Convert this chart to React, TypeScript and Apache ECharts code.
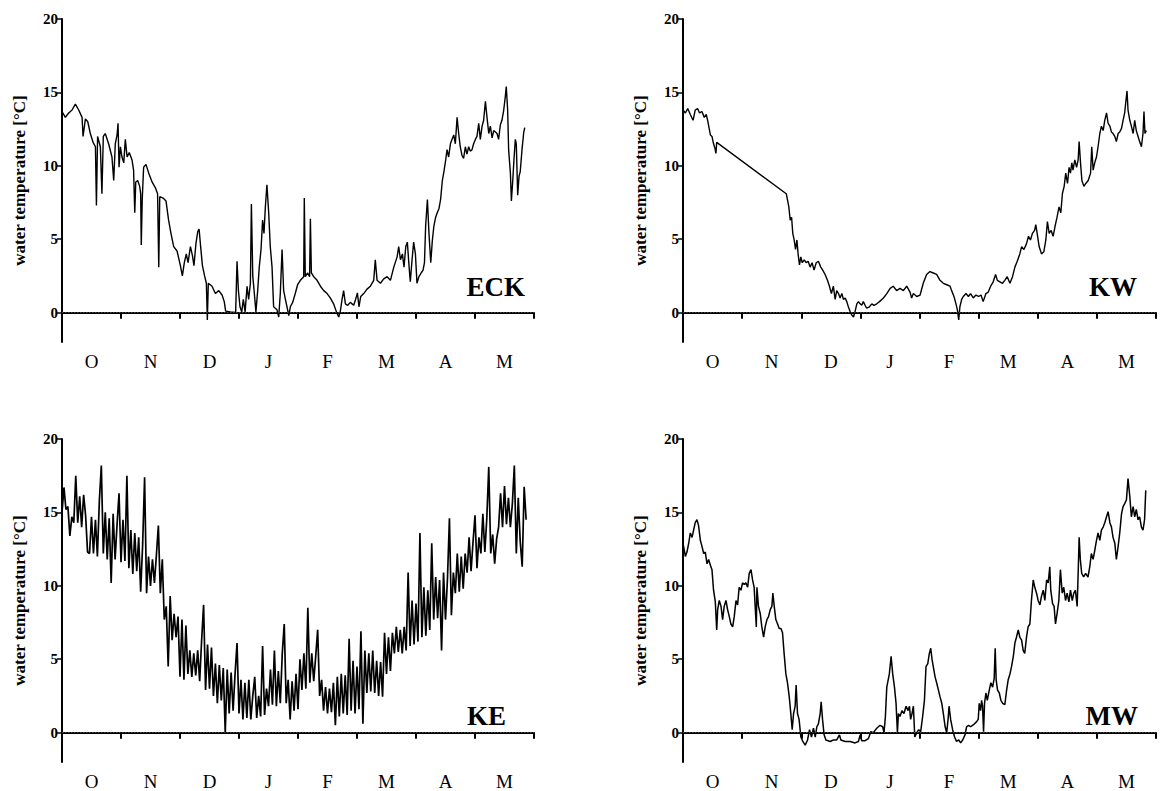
import React, { useEffect, useRef } from "react";
import * as echarts from "echarts";

const months = ["O", "N", "D", "J", "F", "M", "A", "M"];
const yTicks = [0, 5, 10, 15, 20];
const panelNames = ["ECK", "KW", "KE", "MW"];

// [day since 1 Oct (30-day months), water temperature °C]
const eck: [number, number][] = [
  [0, 13.7], [1.7, 13.3], [3.4, 13.6], [5.1, 13.8], [6.8, 14.2], [8.5, 13.8], [10.2, 13.3], [10.7, 12.0],
  [11.9, 13.2], [13.1, 13.0], [14.4, 12.2], [15.8, 11.6], [17.0, 11.3], [17.5, 7.3], [18.1, 12.0], [19.5, 11.3],
  [20.3, 8.1], [21.0, 12.0], [22.0, 12.2], [23.7, 11.5], [25.4, 10.6], [26.3, 9.0], [27.1, 11.5], [28.0, 12.1],
  [28.5, 12.9], [29.0, 9.9], [29.7, 11.3], [30.5, 10.6], [31.4, 10.2], [32.2, 11.8], [33.1, 10.6], [34.2, 10.9],
  [35.6, 10.4], [36.4, 9.7], [37.0, 6.8], [37.5, 8.9], [38.5, 9.0], [39.5, 8.6], [40.0, 8.1], [40.3, 4.6],
  [40.8, 7.7], [41.5, 9.9], [42.7, 10.1], [44.1, 9.5], [45.8, 8.9], [47.5, 8.5], [48.6, 8.1], [49.2, 3.1],
  [49.7, 7.9], [51.4, 7.8], [52.9, 7.6], [54.2, 6.3], [55.4, 5.4], [56.8, 4.5], [58.5, 4.2], [60.2, 3.2],
  [61.2, 2.5], [62.2, 3.4], [63.2, 4.0], [64.1, 3.4], [65.3, 4.5], [66.3, 3.9], [67.1, 3.2], [68.1, 4.7],
  [69.0, 5.5], [69.7, 5.7], [70.5, 4.5], [71.4, 3.2], [72.5, 2.5], [73.4, 2.0], [73.9, -0.5], [74.4, 2.0],
  [76.3, 1.8], [78.0, 1.3], [79.7, 1.5], [81.4, 1.2], [82.5, 0.75], [83.2, 0.1], [85.6, 0.05], [88.3, 0.02],
  [89.0, 3.5], [89.7, 1.5], [90.5, 0.4], [91.4, 0.05], [92.2, 0.9], [93.1, 0.05], [94.1, 1.8], [94.9, 0.9],
  [95.8, 2.0], [96.3, 7.4], [97.0, 2.5], [97.8, 1.3], [98.6, 0.05], [99.5, 1.5], [100.3, 3.1], [101.2, 4.3],
  [102.0, 6.3], [102.7, 5.4], [103.4, 7.2], [104.2, 8.7], [105.1, 6.8], [105.9, 4.5], [106.8, 3.1], [107.6, 0.4],
  [109.3, 0.2], [110.2, -0.3], [111.0, 1.3], [111.9, 4.3], [112.7, 1.5], [113.6, 0.9], [114.4, 0.4], [115.3, -0.2],
  [116.1, 0.4], [117.3, 0.7], [118.6, 1.3], [119.8, 1.9], [121.2, 2.2], [122.9, 2.45], [123.2, 7.8], [123.7, 2.45],
  [124.9, 2.7], [125.9, 2.45], [126.3, 6.4], [126.8, 2.7], [128.0, 2.45], [129.7, 2.2], [131.4, 1.8], [133.1, 1.5],
  [134.8, 1.3], [136.4, 1.0], [138.1, 0.6], [139.5, 0.07], [140.7, -0.3], [141.5, 0.07], [142.4, 0.9], [143.2, 1.5],
  [144.1, 0.6], [145.3, 0.5], [146.6, 0.7], [148.3, 0.5], [149.3, 0.9], [150.2, 1.35], [151.0, 0.4], [151.9, 1.1],
  [153.4, 1.3], [155.1, 1.6], [156.8, 1.8], [158.5, 2.2], [159.3, 3.6], [160.2, 2.2], [161.9, 2.0], [163.6, 2.3],
  [165.3, 2.45], [167.0, 2.2], [168.7, 3.1], [170.4, 3.8], [171.2, 4.5], [172.1, 3.6], [173.1, 4.0], [173.9, 3.1],
  [174.8, 4.5], [175.6, 4.8], [176.5, 3.1], [177.1, 2.1], [178.0, 3.6], [178.8, 4.8], [179.7, 4.0], [180.5, 2.0],
  [181.5, 2.45], [182.6, 2.7], [183.6, 2.9], [184.3, 3.4], [184.9, 5.9], [185.8, 7.7], [186.6, 5.4], [187.5, 3.4],
  [188.3, 4.9], [189.1, 5.9], [190.0, 6.5], [190.8, 6.8], [191.7, 7.1], [192.5, 7.7], [193.4, 9.0], [194.2, 9.6],
  [195.1, 10.4], [195.8, 11.1], [196.6, 10.6], [197.5, 11.5], [198.3, 11.8], [199.2, 12.1], [200.0, 11.5], [200.9, 13.3],
  [201.7, 12.2], [202.5, 11.3], [203.4, 10.7], [204.2, 10.5], [205.1, 11.3], [205.9, 10.8], [206.8, 11.3], [207.6, 11.0],
  [208.5, 11.1], [209.3, 11.5], [210.2, 11.8], [211.0, 12.0], [211.9, 12.9], [212.7, 11.8], [213.6, 12.7], [214.4, 13.1],
  [215.3, 14.4], [216.1, 13.3], [217.0, 12.2], [217.8, 12.7], [218.7, 11.9], [219.5, 12.4], [220.4, 12.3], [221.2, 12.2],
  [222.0, 11.8], [222.9, 12.8], [223.7, 13.1], [224.6, 13.8], [225.4, 14.7], [225.9, 15.4], [226.6, 13.8], [227.1, 11.1],
  [228.0, 9.5], [228.5, 7.6], [229.2, 9.0], [229.8, 10.4], [230.5, 11.8], [231.0, 11.5], [231.7, 8.0], [232.4, 9.3],
  [233.0, 9.6], [233.9, 11.1], [234.8, 12.3], [235.3, 12.6],
];

const kw: [number, number][] = [
  [0, 13.8], [1.2, 13.6], [2.4, 13.9], [3.7, 13.5], [5.1, 13.1], [6.2, 13.8], [7.4, 13.9], [8.4, 13.6],
  [9.6, 13.7], [10.8, 13.3], [11.8, 13.5], [12.5, 13.1], [13.2, 12.6], [13.9, 12.1], [14.7, 12.0], [15.5, 11.5],
  [16.2, 11.2], [16.7, 10.85], [17.1, 11.6],
  [52.4, 8.1], [53.0, 7.7], [53.7, 7.2], [54.4, 6.3], [55.1, 6.5], [55.7, 5.4], [56.4, 4.95], [57.1, 4.3],
  [57.8, 4.95], [58.4, 4.0], [59.1, 3.25], [59.8, 3.8], [60.5, 3.4], [61.5, 3.6], [62.5, 3.4], [63.5, 3.5],
  [64.5, 3.1], [65.5, 3.4], [66.5, 2.9], [67.6, 3.4], [68.7, 3.5], [69.9, 3.1], [70.9, 2.9], [72.1, 2.6],
  [73.3, 2.2], [74.3, 1.8], [75.3, 1.3], [76.3, 1.8], [77.2, 0.9], [78.0, 1.5], [78.9, 1.3], [79.7, 1.0],
  [80.6, 1.3], [81.4, 0.9], [82.3, 1.0], [83.1, 0.75], [83.9, 0.4], [84.8, 0.07], [85.6, -0.15], [86.5, -0.3],
  [87.3, 0.07], [88.2, 0.6], [89.0, 0.75], [89.9, 0.6], [90.7, 0.5], [91.5, 0.75], [92.4, 0.5], [93.2, 0.3],
  [94.6, 0.4], [95.8, 0.6], [96.9, 0.5], [98.3, 0.6], [99.7, 0.75], [101.7, 1.0], [103.4, 1.3], [105.1, 1.65],
  [106.7, 1.8], [108.4, 1.5], [110.1, 1.65], [111.8, 1.5], [113.5, 1.8], [115.2, 1.4], [116.0, 1.0], [116.9, 1.3],
  [118.6, 1.1], [120.3, 1.2], [121.9, 2.0], [123.6, 2.6], [125.3, 2.8], [127.0, 2.7], [128.7, 2.6], [130.4, 2.2],
  [132.1, 2.0], [133.8, 1.9], [135.5, 1.8], [136.3, 1.5], [137.5, 1.1], [138.5, 0.6], [139.2, 0.2], [139.9, -0.5],
  [140.5, 0.4], [141.4, 0.9], [142.2, 1.1], [143.6, 1.3], [144.8, 1.1], [145.9, 1.3], [147.3, 1.0], [148.6, 1.2],
  [150.0, 1.1], [151.2, 1.2], [152.3, 0.75], [153.7, 1.3], [154.9, 1.4], [156.1, 1.8], [157.4, 2.1], [158.6, 2.6],
  [159.5, 2.2], [160.8, 2.1], [162.1, 2.0], [163.3, 2.2], [164.5, 2.45], [165.9, 2.0], [167.2, 2.45], [168.4, 3.1],
  [169.6, 3.5], [170.9, 4.0], [171.8, 4.5], [173.0, 4.3], [174.3, 4.7], [175.3, 5.2], [176.3, 4.95], [177.3, 5.4],
  [178.4, 5.6], [179.0, 6.0], [179.7, 5.4], [180.7, 4.5], [181.9, 4.0], [183.1, 4.15], [184.1, 4.95], [184.9, 6.2],
  [185.8, 5.4], [186.8, 5.6], [187.8, 5.2], [188.8, 5.9], [189.8, 6.5], [190.8, 7.2], [191.7, 6.8], [192.5, 8.1],
  [193.4, 8.6], [194.2, 9.5], [195.1, 8.8], [195.9, 9.9], [196.6, 9.5], [197.3, 10.2], [197.9, 9.7], [198.8, 10.4],
  [199.7, 9.9], [200.5, 10.4], [201.0, 11.65], [201.7, 10.2], [202.4, 9.0], [203.4, 8.6], [204.4, 8.8], [205.6, 9.0],
  [206.8, 9.5], [207.4, 11.3], [208.1, 9.7], [208.9, 10.2], [209.8, 10.6], [210.6, 11.3], [211.5, 12.2], [212.3, 12.7],
  [213.2, 12.4], [214.0, 13.1], [214.9, 13.6], [215.7, 12.9], [216.6, 12.7], [217.4, 12.3], [218.2, 12.2], [219.1, 12.0],
  [219.9, 11.65], [220.8, 12.2], [221.6, 12.3], [222.5, 12.55], [223.3, 13.1], [224.1, 13.6], [224.8, 14.5], [225.3, 15.1],
  [225.8, 13.8], [226.7, 13.1], [227.5, 12.7], [228.4, 12.2], [229.2, 13.1], [230.0, 12.4], [230.9, 12.0], [231.7, 11.65],
  [232.6, 11.3], [233.4, 12.2], [233.9, 13.7], [234.4, 12.2], [235.1, 12.4],
];

// one value per day from 1 Oct
const ke: number[] = [
  15.0, 16.7, 15.2, 15.4, 13.4, 14.7, 14.3, 17.5, 14.3, 16.1, 14.0, 16.2, 14.8, 12.3, 12.2, 14.7,
  12.2, 14.5, 12.0, 15.8, 18.2, 12.2, 15.0, 11.8, 14.6, 10.2, 14.9, 11.8, 14.2, 16.3, 11.6, 14.5,
  11.7, 17.5, 11.2, 13.8, 10.8, 13.6, 11.0, 13.3, 9.6, 12.8, 17.4, 9.5, 12.0, 10.0, 11.8, 10.2,
  12.1, 14.1, 9.5, 11.8, 7.7, 8.6, 4.5, 9.3, 6.3, 8.1, 6.5, 7.9, 3.8, 7.7, 3.6, 7.3,
  4.0, 5.6, 3.8, 5.4, 3.9, 5.6, 3.5, 6.3, 8.7, 2.9, 6.0, 3.0, 5.8, 2.5, 4.7, 2.0,
  4.6, 2.2, 4.4, 0.0, 4.3, 1.3, 4.1, 1.5, 4.0, 6.1, 1.3, 3.6, 0.9, 3.4, 1.0, 3.6,
  0.9, 2.5, 3.8, 1.0, 2.5, 1.1, 5.9, 1.2, 3.0, 1.8, 4.3, 1.9, 5.6, 1.8, 4.2, 2.0,
  5.4, 7.4, 2.0, 3.6, 0.9, 3.5, 1.5, 4.0, 1.6, 5.0, 2.9, 5.4, 3.0, 8.5, 3.4, 5.4,
  3.5, 5.2, 7.0, 2.5, 3.6, 1.5, 3.1, 1.3, 3.0, 1.4, 3.4, 0.5, 3.8, 1.1, 4.0, 1.3,
  3.9, 1.2, 6.4, 1.5, 4.9, 1.3, 4.5, 1.6, 6.9, 0.6, 5.6, 2.7, 5.4, 2.8, 5.6, 2.7,
  4.9, 2.5, 4.8, 2.45, 6.8, 4.0, 6.5, 4.2, 6.8, 5.4, 7.2, 5.5, 7.0, 5.4, 7.2, 5.6,
  10.9, 5.9, 9.0, 6.0, 8.8, 6.2, 13.6, 6.5, 9.9, 6.6, 9.7, 7.0, 12.9, 7.7, 10.6, 7.8,
  10.4, 5.6, 10.9, 7.7, 10.5, 14.6, 8.0, 10.9, 9.5, 12.2, 9.6, 12.0, 9.8, 12.2, 10.9, 13.3,
  11.0, 13.0, 14.8, 11.2, 13.3, 12.2, 14.9, 12.3, 14.6, 18.1, 12.2, 13.5, 11.5, 13.2, 14.0, 16.3,
  14.0, 16.8, 14.2, 16.0, 14.0, 15.6, 18.2, 12.2, 16.0, 13.0, 11.3, 16.75, 14.5,
];

const mw: [number, number][] = [
  [0, 12.9], [1.2, 12.0], [2.0, 12.3], [2.9, 12.9], [3.7, 13.6], [4.6, 13.3], [5.4, 13.8], [6.2, 14.3],
  [7.1, 14.5], [7.9, 14.1], [8.8, 13.1], [9.6, 12.7], [10.5, 12.2], [11.3, 12.3], [12.2, 11.5], [13.0, 11.8],
  [13.9, 11.4], [14.7, 11.1], [15.5, 9.7], [16.4, 8.9], [17.1, 7.0], [17.6, 8.4], [18.4, 9.0], [19.3, 8.6],
  [20.1, 7.7], [20.9, 8.6], [21.8, 9.0], [22.6, 8.4], [23.5, 7.9], [24.3, 7.4], [25.2, 7.2], [26.0, 7.9],
  [26.9, 9.0], [27.7, 8.7], [28.5, 9.9], [29.4, 9.7], [30.2, 10.2], [31.1, 10.1], [31.9, 10.2], [32.8, 9.9],
  [33.6, 10.85], [34.5, 11.1], [35.3, 10.4], [36.1, 9.9], [36.7, 8.4], [37.2, 7.2], [37.5, 9.9], [38.3, 8.6],
  [39.2, 8.1], [40.0, 7.2], [40.9, 6.5], [41.7, 7.2], [42.6, 7.7], [43.4, 7.9], [44.3, 8.4], [45.1, 8.6],
  [45.6, 9.5], [46.3, 8.6], [47.1, 7.7], [48.0, 7.4], [48.8, 7.1], [49.7, 7.1], [50.5, 6.8], [51.3, 5.4],
  [52.2, 4.0], [53.0, 3.4], [53.9, 2.45], [54.7, 1.3], [55.4, 0.2], [56.1, 1.3], [56.9, 1.8], [57.4, 3.25],
  [58.1, 1.3], [58.9, 0.9], [59.8, -0.3], [60.8, -0.6], [62.0, -0.85], [63.2, -0.5], [64.2, 0.2], [65.2, -0.3],
  [66.2, 0.3], [67.1, -0.3], [67.9, 0.4], [68.7, 0.6], [69.6, 1.3], [70.1, 2.1], [70.8, 0.9], [71.6, -0.15],
  [72.5, -0.5], [74.7, -0.6], [76.3, -0.5], [78.0, -0.5], [79.4, -0.15], [80.1, -0.5], [82.3, -0.6], [84.8, -0.6],
  [87.3, -0.7], [89.0, -0.6], [89.9, -0.15], [90.7, -0.55], [92.4, -0.55], [94.1, -0.4], [95.3, 0.07], [96.6, 0.0],
  [98.3, 0.3], [100.0, 0.5], [101.3, 0.4], [102.0, 0.0], [102.7, 1.1], [103.4, 3.1], [104.7, 4.0], [105.6, 5.2],
  [106.4, 4.0], [107.3, 3.1], [108.1, 2.0], [108.8, 0.0], [109.3, 1.3], [110.1, 1.1], [111.1, 1.5], [112.1, 1.3],
  [113.2, 1.8], [114.2, 1.5], [114.9, 1.8], [115.5, 0.9], [116.2, 1.3], [116.9, 1.8], [117.6, -0.3], [118.6, 0.0],
  [119.6, 0.2], [120.6, 0.07], [121.6, 1.1], [122.5, 2.2], [123.3, 4.5], [124.2, 4.7], [125.0, 5.4], [125.7, 5.75],
  [126.4, 4.95], [127.0, 4.5], [127.9, 3.8], [128.7, 3.4], [129.6, 2.9], [130.4, 2.45], [131.3, 2.0], [132.1, 1.3],
  [133.0, 0.4], [133.8, 0.0], [134.5, 0.9], [135.0, 1.8], [135.8, 0.9], [136.8, 0.2], [137.8, -0.3], [138.8, -0.6],
  [139.9, -0.5], [140.9, -0.7], [141.9, -0.5], [143.1, -0.15], [143.9, 0.4], [144.9, 0.5], [145.9, 0.4], [146.9, 0.5],
  [147.9, 0.6], [149.0, 0.75], [149.8, 0.9], [150.3, 2.0], [151.0, 1.5], [151.5, 2.2], [152.0, 1.8], [152.5, 0.07],
  [153.0, 2.0], [153.7, 2.7], [154.4, 2.2], [155.4, 2.9], [156.2, 3.4], [157.1, 3.1], [157.9, 3.7], [158.4, 5.75],
  [158.9, 3.6], [159.6, 2.9], [160.5, 2.7], [161.3, 2.2], [162.2, 2.0], [163.3, 1.9], [164.2, 2.9], [165.0, 3.6],
  [165.9, 4.0], [166.7, 4.5], [167.6, 5.2], [168.4, 6.1], [169.2, 6.5], [170.1, 7.0], [170.9, 6.5], [171.8, 6.3],
  [172.6, 5.6], [173.4, 5.4], [174.3, 6.5], [175.1, 7.2], [176.0, 7.4], [176.8, 9.0], [177.7, 10.4], [178.5, 9.9],
  [179.4, 9.5], [180.2, 9.0], [181.1, 8.7], [181.9, 9.3], [182.8, 9.7], [183.6, 9.0], [184.5, 10.4], [185.3, 10.2],
  [186.1, 11.3], [186.6, 9.7], [187.5, 8.8], [188.3, 8.6], [189.0, 7.4], [189.8, 8.1], [190.7, 9.0], [191.5, 11.1],
  [192.4, 9.5], [193.2, 9.9], [194.1, 9.0], [194.9, 9.5], [195.8, 8.9], [196.6, 9.7], [197.5, 9.0], [198.3, 9.5],
  [199.1, 9.7], [200.0, 8.6], [200.6, 11.3], [201.0, 13.3], [201.6, 11.8], [202.3, 10.85], [203.3, 10.6], [204.3, 10.85],
  [205.5, 10.6], [206.4, 11.3], [207.2, 12.2], [208.1, 11.8], [208.9, 12.4], [209.8, 13.1], [210.6, 13.6], [211.5, 13.1],
  [212.3, 13.8], [213.2, 14.0], [214.0, 14.3], [214.9, 14.7], [215.7, 15.05], [216.6, 14.3], [217.4, 14.0], [218.2, 13.3],
  [219.1, 12.9], [219.9, 11.8], [220.8, 12.7], [221.6, 13.6], [222.5, 14.9], [223.3, 15.4], [224.1, 15.6], [225.0, 15.85],
  [225.8, 17.3], [226.7, 16.1], [227.5, 14.7], [228.4, 15.4], [229.2, 14.7], [230.0, 15.2], [230.9, 14.5], [231.7, 14.7],
  [232.6, 14.0], [233.4, 13.8], [234.2, 14.5], [234.8, 16.5],
];

const SERIF = "Liberation Serif";

export default function App() {
  const ref = useRef<HTMLDivElement>(null);

  useEffect(() => {
    if (!ref.current) return;
    const chart = echarts.init(ref.current, undefined, { renderer: "svg" });

    const grids = [
      { left: 62, top: 19, width: 472, height: 323, outerBoundsMode: "none", containLabel: false },
      { left: 683, top: 19, width: 473, height: 323, outerBoundsMode: "none", containLabel: false },
      { left: 62, top: 439, width: 472, height: 323, outerBoundsMode: "none", containLabel: false },
      { left: 683, top: 439, width: 473, height: 323, outerBoundsMode: "none", containLabel: false },
    ];
    const datasets: [number, number][][] = [eck, kw, ke.map((v, i) => [i, v] as [number, number]), mw];
    const lineWidths = [1.4, 1.4, 1.7, 1.5];
    const labelPos = [
      { x: 525, y: 287 },
      { x: 1137, y: 287 },
      { x: 506, y: 716 },
      { x: 1138, y: 716 },
    ];

    const xAxes: any[] = [];
    const yAxes: any[] = [];
    const series: any[] = [];
    grids.forEach((g, i) => {
      xAxes.push({
        type: "category",
        gridIndex: i,
        data: months,
        boundaryGap: true,
        axisLine: { lineStyle: { color: "#000", width: 2 } },
        axisTick: { show: true, length: 6, lineStyle: { color: "#000", width: 2 } },
        axisLabel: { color: "#000", fontFamily: SERIF, fontSize: 19, lineHeight: 17, margin: 11 },
        splitLine: { show: false },
      });
      xAxes.push({
        type: "value",
        gridIndex: i,
        min: 0,
        max: 240,
        show: false,
      });
      yAxes.push({
        type: "value",
        gridIndex: i,
        min: -2,
        max: 20,
        name: "water temperature [°C]",
        nameLocation: "middle",
        nameRotate: 90,
        nameGap: 34,
        nameTextStyle: { color: "#000", fontFamily: SERIF, fontWeight: "bold", fontSize: 17 },
        axisLine: { show: true, lineStyle: { color: "#000", width: 2 } },
        axisTick: { show: true, length: 5, customValues: yTicks, lineStyle: { color: "#000", width: 1.5 } },
        axisLabel: {
          color: "#000",
          fontFamily: SERIF,
          fontWeight: "bold",
          fontSize: 15,
          margin: 4,
          customValues: yTicks,
        },
        splitLine: { show: false },
      });
      series.push({
        type: "line",
        xAxisIndex: i * 2 + 1,
        yAxisIndex: i,
        data: datasets[i],
        showSymbol: false,
        symbol: "none",
        lineStyle: { color: "#000", width: lineWidths[i] },
        markLine: {
          silent: true,
          symbol: "none",
          label: { show: false },
          lineStyle: { color: "#444", width: 1, type: [1.5, 1.5] },
          data: [{ yAxis: 0 }],
        },
      });
    });

    chart.setOption({
      animation: false,
      backgroundColor: "#fff",
      grid: grids,
      xAxis: xAxes,
      yAxis: yAxes,
      series,
      graphic: panelNames.map((name, i) => ({
        type: "text",
        x: labelPos[i].x,
        y: labelPos[i].y,
        style: {
          text: name,
          fill: "#000",
          fontFamily: SERIF,
          fontWeight: "bold",
          fontSize: 27,
          textAlign: "right",
          textVerticalAlign: "middle",
        },
      })),
    });

    return () => chart.dispose();
  }, []);

  return (
    <div
      ref={ref}
      style={{ position: "absolute", left: 0, top: 0, width: 1161, height: 791 }}
    />
  );
}
